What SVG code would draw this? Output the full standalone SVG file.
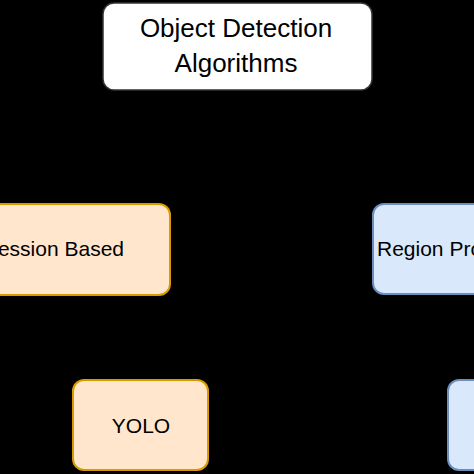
<svg xmlns="http://www.w3.org/2000/svg" width="474" height="474" viewBox="0 0 474 474">
  <defs>
    <marker id="arr" viewBox="0 0 10 10" refX="9" refY="5" markerWidth="6" markerHeight="6" orient="auto">
      <path d="M0,0 L10,5 L0,10 z" fill="#000000"/>
    </marker>
    <style>
      .lbl { font-family: "Liberation Sans", Arial, sans-serif; fill: #000000; }
      .white { fill: #ffffff; stroke: #333333; stroke-width: 1.5; }
      .orange { fill: #ffe6cc; stroke: #d79b00; stroke-width: 2; }
      .blue { fill: #dae8fc; stroke: #6c8ebf; stroke-width: 2; }
      .edge { fill: none; stroke: #000000; stroke-width: 1.5; marker-end: url(#arr); }
    </style>
  </defs>
  <rect x="0" y="0" width="474" height="474" fill="#000000"/>
  <g id="connectors">
    <path class="edge" d="M237,90 V150 H35 V202"/>
    <path class="edge" d="M237,90 V150 H500 V203"/>
    <path class="edge" d="M35,295 V338 H140 V379"/>
    <path class="edge" d="M500,294 V338 H520 V379"/>
  </g>
  <g id="node-root">
    <rect class="white" x="103" y="3" width="269" height="87" rx="11"/>
    <text class="lbl" x="236" y="37" font-size="26" text-anchor="middle">Object Detection</text>
    <text class="lbl" x="236" y="72" font-size="26" text-anchor="middle">Algorithms</text>
  </g>
  <g id="node-regression">
    <rect class="orange" x="-85" y="204" width="255" height="91" rx="11"/>
    <text class="lbl" x="124" y="256" font-size="21" text-anchor="end">Regression Based</text>
  </g>
  <g id="node-region">
    <rect class="blue" x="373" y="204" width="255" height="90" rx="11"/>
    <text class="lbl" x="377" y="256" font-size="21">Region Proposal Based</text>
  </g>
  <g id="node-yolo">
    <rect class="orange" x="73" y="380" width="135" height="90" rx="11"/>
    <text class="lbl" x="141" y="433" font-size="21" text-anchor="middle">YOLO</text>
  </g>
  <g id="node-rcnn">
    <rect class="blue" x="448" y="380" width="150" height="90" rx="11"/>
  </g>
</svg>
